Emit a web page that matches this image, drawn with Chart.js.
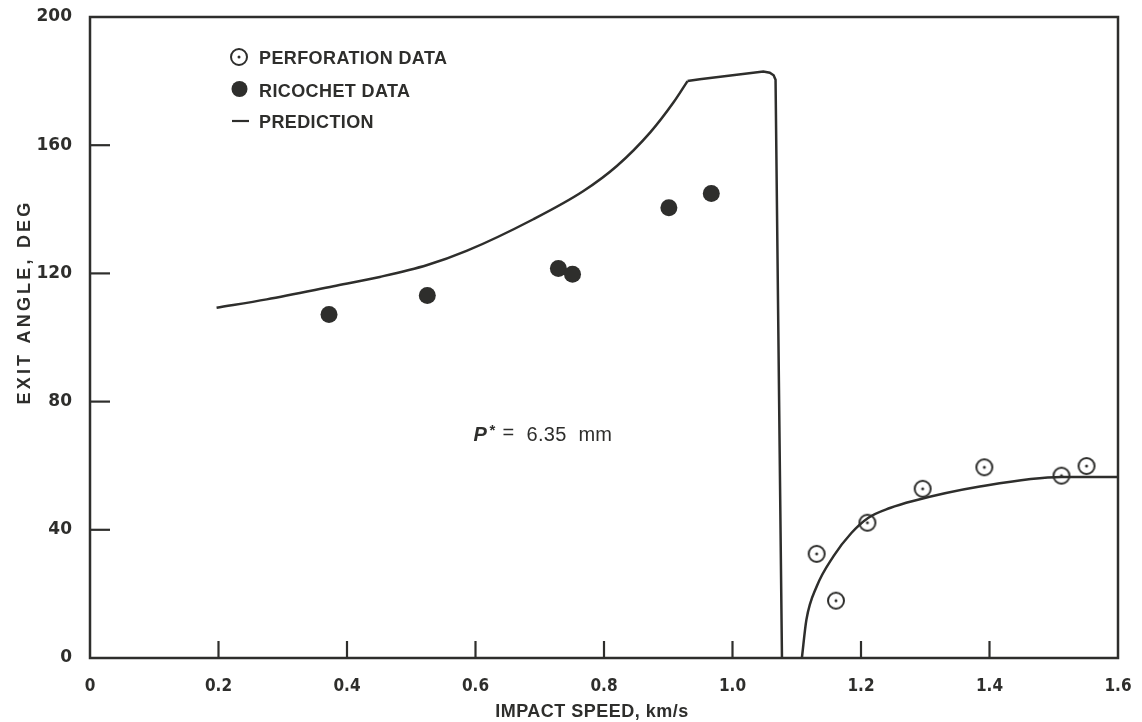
<!DOCTYPE html>
<html>
<head>
<meta charset="utf-8">
<script src="https://cdn.jsdelivr.net/npm/chart.js@4/dist/chart.umd.min.js"></script>
<style>
  html, body { margin: 0; padding: 0; background: #fff; }
  #wrap { width: 1142px; height: 722px; }
</style>
</head>
<body>
<div id="wrap"><canvas id="grafico" width="1142" height="722"></canvas></div>
<script>
// values
const ricochetSpeed = [0.372, 0.525, 0.729, 0.751, 0.901, 0.967];
const ricochetAngle = [107.2, 113.1, 121.5, 119.7, 140.5, 144.9];

const perforationSpeed = [1.131, 1.161, 1.210, 1.296, 1.392, 1.512, 1.551];
const perforationAngle = [32.5, 17.9, 42.2, 52.8, 59.5, 56.9, 59.9];

// prediction, ricochet branch (smooth rise up to the corner)
const predRiseSpeed = [0.197, 0.275, 0.379, 0.451, 0.525, 0.586, 0.690, 0.768, 0.820, 0.872, 0.908, 0.930];
const predRiseAngle = [109.3, 111.9, 116.0, 118.9, 122.6, 127.0, 136.9, 145.7, 153.5, 164.0, 173.3, 180.0];

// prediction, flat top and drop
const predTopSpeed = [0.930, 0.949, 1.048, 1.058, 1.064, 1.067, 1.077];
const predTopAngle = [180.0, 180.6, 183.0, 182.6, 181.8, 180.4, 0];

// prediction, perforation branch
const predPerfSpeed = [1.108, 1.115, 1.131, 1.157, 1.185, 1.211, 1.245, 1.281, 1.385, 1.512, 1.6];
const predPerfAngle = [0, 11.9, 22.3, 31.7, 39.0, 43.7, 46.8, 49.0, 53.5, 56.5, 56.5];

const xTickLabels = ['0', '0.2', '0.4', '0.6', '0.8', '1.0', '1.2', '1.4', '1.6'];
const yTickLabels = ['0', '40', '80', '120', '160', '200'];

const ink = '#2e2e2c';

function pts(xs, ys) {
    return xs.map((x, i) => ({ x: x, y: ys[i] }));
}

// open circle with a dot in the middle
function dotCircle() {
    const c = document.createElement('canvas');
    c.width = 22; c.height = 22;
    const g = c.getContext('2d');
    g.strokeStyle = ink;
    g.lineWidth = 2;
    g.beginPath(); g.arc(11, 11, 8, 0, Math.PI * 2); g.stroke();
    g.fillStyle = ink;
    g.beginPath(); g.arc(11, 11, 1.5, 0, Math.PI * 2); g.fill();
    return c;
}
const perfMark = dotCircle();

function spaced(ctx, text, x, y, spacing) {
    ctx.letterSpacing = spacing + 'px';
    ctx.fillText(text, x, y);
    ctx.letterSpacing = '0px';
}

const decor = {
    id: 'decor',
    beforeDatasetsDraw(chart) {
        const ctx = chart.ctx;
        const a = chart.chartArea;
        const xs = chart.scales.x, ys = chart.scales.y;
        ctx.save();
        ctx.strokeStyle = ink;
        ctx.lineWidth = 2.5;
        ctx.strokeRect(a.left, a.top, a.right - a.left, a.bottom - a.top);
        ctx.lineWidth = 2.2;
        [40, 80, 120, 160].forEach(v => {
            const py = ys.getPixelForValue(v);
            ctx.beginPath(); ctx.moveTo(a.left, py); ctx.lineTo(a.left + 20, py); ctx.stroke();
        });
        [0.2, 0.4, 0.6, 0.8, 1.0, 1.2, 1.4].forEach(v => {
            const px = xs.getPixelForValue(v);
            ctx.beginPath(); ctx.moveTo(px, a.bottom); ctx.lineTo(px, a.bottom - 17); ctx.stroke();
        });
        ctx.restore();
    },
    afterDraw(chart) {
        const ctx = chart.ctx;
        const xs = chart.scales.x, ys = chart.scales.y;
        ctx.save();
        ctx.fillStyle = ink;
        ctx.strokeStyle = ink;

        // axis titles
        ctx.font = 'bold 18px "Liberation Sans", Arial, sans-serif';
        ctx.textAlign = 'center';
        ctx.textBaseline = 'alphabetic';
        spaced(ctx, 'IMPACT SPEED, km/s', 592, 717, 0.5);
        ctx.save();
        ctx.translate(30, 302);
        ctx.rotate(-Math.PI / 2);
        spaced(ctx, 'EXIT ANGLE, DEG', 0, 0, 3.2);
        ctx.restore();

        // legend
        ctx.textAlign = 'left';
        ctx.font = 'bold 18px "Liberation Sans", Arial, sans-serif';
        ctx.drawImage(perfMark, 239 - 11, 57 - 11);
        spaced(ctx, 'PERFORATION DATA', 259, 64, 0.4);
        ctx.beginPath(); ctx.arc(239.5, 89, 8, 0, Math.PI * 2); ctx.fill();
        spaced(ctx, 'RICOCHET DATA', 259, 97, 0.4);
        ctx.lineWidth = 2.2;
        ctx.beginPath(); ctx.moveTo(232, 121); ctx.lineTo(249, 121); ctx.stroke();
        spaced(ctx, 'PREDICTION', 259, 128, 0.4);

        // P* annotation
        const ax = xs.getPixelForValue(0.597);
        const ay = ys.getPixelForValue(67.6);
        ctx.font = 'italic bold 20px "Liberation Sans", Arial, sans-serif';
        ctx.fillText('P', ax, ay);
        ctx.font = 'bold 15px "Liberation Sans", Arial, sans-serif';
        ctx.fillText('*', ax + 16, ay - 6);
        ctx.font = '20px "Liberation Sans", Arial, sans-serif';
        ctx.fillText('=', ax + 29, ay - 2);
        spaced(ctx, '6.35  mm', ax + 53, ay, 0.3);
        ctx.restore();
    }
};

function predLine(xs, ys, smooth) {
    return {
        label: 'PREDICTION',
        data: pts(xs, ys),
        showLine: true,
        borderColor: ink,
        borderWidth: 2.5,
        pointRadius: 0,
        cubicInterpolationMode: smooth ? 'monotone' : 'default',
        tension: 0,
        fill: false
    };
}

var data1 = {
    datasets: [
        {
            label: 'PERFORATION DATA',
            data: pts(perforationSpeed, perforationAngle),
            pointStyle: perfMark,
            pointRadius: 9,
            showLine: false
        },
        {
            label: 'RICOCHET DATA',
            data: pts(ricochetSpeed, ricochetAngle),
            pointStyle: 'circle',
            pointRadius: 8.5,
            backgroundColor: ink,
            borderColor: ink,
            borderWidth: 0,
            showLine: false
        },
        predLine(predRiseSpeed, predRiseAngle, true),
        predLine(predTopSpeed, predTopAngle, false),
        predLine(predPerfSpeed, predPerfAngle, true)
    ]
};

var config1 = {
    type: 'scatter',
    data: data1,
    options: {
        responsive: false,
        animation: false,
        events: [],
        layout: { padding: { top: 17, right: 24, left: 0, bottom: 0 } },
        plugins: {
            legend: { display: false },
            tooltip: { enabled: false }
        },
        scales: {
            x: {
                type: 'linear',
                min: 0,
                max: 1.6,
                afterFit: s => { s.height = 64; s.paddingLeft = 0; s.paddingRight = 0; },
                afterBuildTicks: s => { s.ticks = xTickLabels.map((t, i) => ({ value: i * 0.2 })); },
                grid: { display: false, drawTicks: false },
                border: { display: false },
                ticks: {
                    padding: 18,
                    color: ink,
                    font: { family: '"DejaVu Sans Condensed", "DejaVu Sans", sans-serif', size: 17, weight: 'bold' },
                    callback: (v, i) => xTickLabels[i]
                }
            },
            y: {
                type: 'linear',
                min: 0,
                max: 200,
                afterFit: s => { s.width = 90; s.paddingTop = 0; s.paddingBottom = 0; },
                afterBuildTicks: s => { s.ticks = yTickLabels.map((t, i) => ({ value: i * 40 })); },
                grid: { display: false, drawTicks: false },
                border: { display: false },
                ticks: {
                    padding: 18,
                    color: ink,
                    font: { family: '"DejaVu Sans", sans-serif', size: 17, weight: 'bold' },
                    callback: (v, i) => yTickLabels[i]
                }
            }
        }
    },
    plugins: [decor]
};

var grafico1 = new Chart(document.getElementById('grafico'), config1);
</script>
</body>
</html>
